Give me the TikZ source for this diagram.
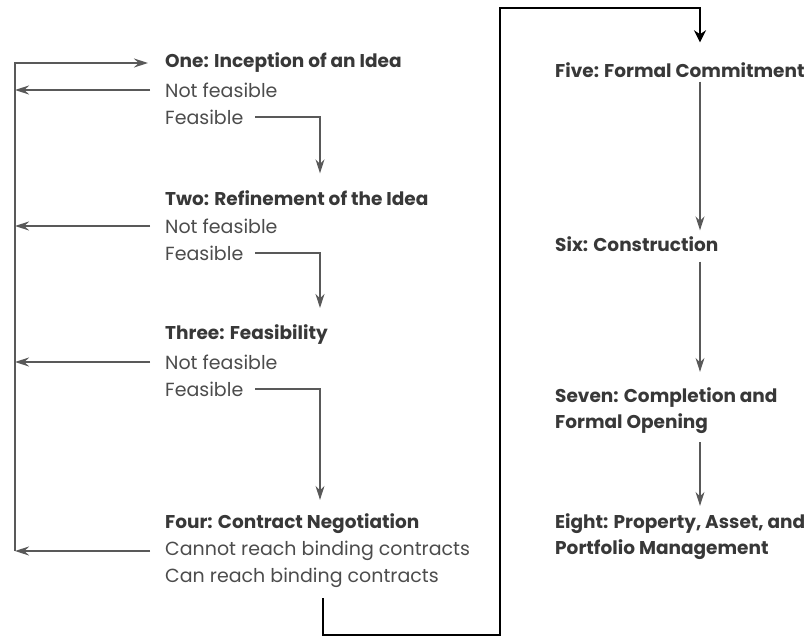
\documentclass[tikz,border=0pt]{standalone}
\usepackage{fontspec}
\setmainfont{Poppins}
\usepackage{xcolor}
\usetikzlibrary{arrows.meta}

\begin{document}
\begin{tikzpicture}[x=1pt,y=-1pt,font=\fontsize{19}{26}\selectfont,every node/.style={anchor=west,inner sep=0pt,text=black!78}]
% Node styles: stage headings and branch lines
\tikzstyle{stage node}=[font=\fontsize{18.5}{26}\selectfont\bfseries,align=left];
\tikzstyle{branch node}=[font=\fontsize{19}{26}\selectfont,text=black!70];
% Connector styles
\tikzstyle{flow line}=[draw=black!65,line width=1.3pt];
\tikzstyle{flow arrow}=[flow line,-{Stealth[length=14pt,width=9pt]}];
\tikzstyle{main line}=[draw=black,line width=2.8pt,-{Stealth[length=12pt,width=12pt]}];
\useasboundingbox (0,0) rectangle (812,640);
% Stages one to four
\node[stage node](one) at (165,63) {One: Inception of an Idea};
\node[branch node](onenf) at (165,90) {Not feasible};
\node[branch node](onef) at (165,117) {Feasible};
\node[stage node](two) at (165,198) {Two: Refinement of the Idea};
\node[branch node](twonf) at (165,226) {Not feasible};
\node[branch node](twof) at (165,253) {Feasible};
\node[stage node](three) at (165,335) {Three: Feasibility};
\node[branch node](threenf) at (165,362) {Not feasible};
\node[branch node](threef) at (165,389) {Feasible};
\node[stage node](four) at (165,524) {Four: Contract Negotiation};
\node[branch node](fournf) at (165,551) {Cannot reach binding contracts};
\node[branch node](fourcan) at (165,578) {Can reach binding contracts};
% Stages five to eight
\node[stage node](five) at (555,70) {Five: Formal Commitment};
\node[stage node](six) at (555,244) {Six: Construction};
\node[stage node](seven) at (555,411) {Seven: Completion and\\Formal Opening};
\node[stage node](eight) at (555,537) {Eight: Property, Asset, and\\Portfolio Management};
% Columns of the connectors
\coordinate(back) at (15,0);
\coordinate(drop) at (320,0);
\coordinate(bigdrop) at (323,0);
\coordinate(col) at (700,0);
\coordinate(low) at (500,635);
\coordinate(high) at (500,8);
% Back to the idea
\draw[flow arrow](back |- fournf) |- ([xshift=-17]one.west);
\draw[flow arrow]([xshift=-15]onenf.west) -- (back |- onenf);
\draw[flow arrow]([xshift=-15]twonf.west) -- (back |- twonf);
\draw[flow arrow]([xshift=-15]threenf.west) -- (back |- threenf);
\draw[flow arrow]([xshift=-15]fournf.west) -- (back |- fournf);
% Feasible
\draw[flow arrow]([xshift=12]onef.east) -| ([yshift=17]two.north -| drop);
\draw[flow arrow]([xshift=12]twof.east) -| ([yshift=17]three.north -| drop);
\draw[flow arrow]([xshift=12]threef.east) -| ([yshift=14]four.north -| drop);
% On to commitment
\draw[main line]([yshift=-10]fourcan.south -| bigdrop) |- (low) -- (high) -| ([yshift=20]five.north -| col);
\draw[flow arrow]([yshift=-4]five.south -| col) -- ([yshift=6]six.north -| col);
\draw[flow arrow]([yshift=-10]six.south -| col) -- ([yshift=16]seven.north -| col);
\draw[flow arrow]([yshift=-8]seven.south -| col) -- ([yshift=8]eight.north -| col);
\end{tikzpicture}
\end{document}
